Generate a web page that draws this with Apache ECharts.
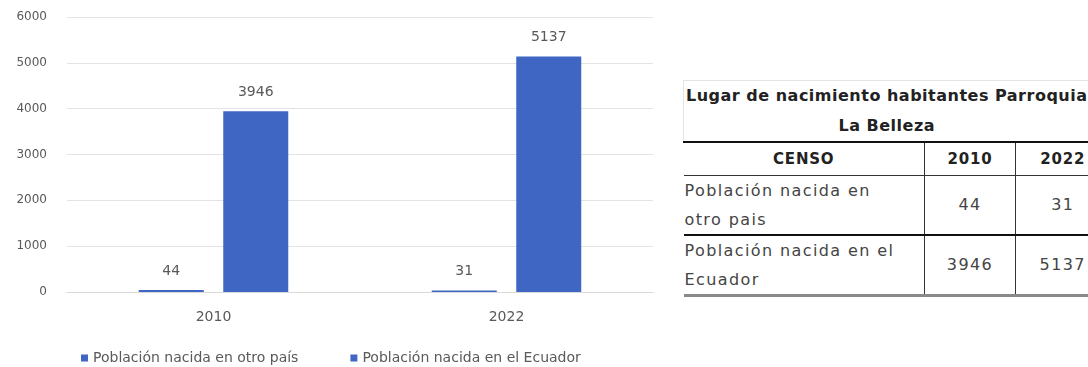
<!DOCTYPE html>
<html><head><meta charset="utf-8">
<script src="https://cdn.jsdelivr.net/npm/echarts@6/dist/echarts.min.js"></script>
<style>
html,body{margin:0;padding:0;background:#fff;width:1088px;height:367px;overflow:hidden;}
#chart{position:absolute;left:0;top:0;width:670px;height:367px;}
#tbl{position:absolute;left:683px;top:80px;width:426px;border-collapse:collapse;font-family:"DejaVu Sans",sans-serif;color:#444;table-layout:fixed;}
#tbl td{padding:0;text-align:center;box-sizing:border-box;}
#tbl .title{height:61px;font-weight:bold;font-size:16px;line-height:30px;color:#222;border-top:1px solid #e4e4e4;border-left:1px solid #e4e4e4;white-space:nowrap;letter-spacing:0.5px;vertical-align:middle;padding-right:20px;}
#tbl .hdr td{height:33px;font-weight:bold;font-size:15px;color:#222;border-top:2px solid #111;border-bottom:1px solid #333;letter-spacing:0.8px;}
#tbl .row td{height:59px;font-size:16px;letter-spacing:1.4px;line-height:29px;}
#tbl .lbl{text-align:left !important;padding-left:1px;white-space:nowrap;}
#tbl .vb{border-left:1px solid #333;}
#tbl .r1 td{border-bottom:2px solid #111;}
#tbl .r2 td{border-bottom:3px solid #8a8a8a;}
</style>
</head><body>
<div id="chart"></div>
<table id="tbl">
<colgroup><col style="width:241px"><col style="width:91px"><col style="width:94px"></colgroup>
<tr><td class="title" colspan="3" id="ttl"></td></tr>
<tr class="hdr"><td id="h0"></td><td class="vb" id="h1"></td><td class="vb" id="h2"></td></tr>
<tr class="row r1"><td class="lbl" id="l0"></td><td class="vb" id="a0"></td><td class="vb" id="b0"></td></tr>
<tr class="row r2"><td class="lbl" id="l1"></td><td class="vb" id="a1"></td><td class="vb" id="b1"></td></tr>
</table>
<script>
const categories = ['2010', '2022'];
const seriesNames = ['Población nacida en otro país', 'Población nacida en el Ecuador'];
const otroPais = [44, 31];
const ecuador = [3946, 5137];
const tableTitle = ['Lugar de nacimiento habitantes Parroquia', 'La Belleza'];
const tableHeader = ['CENSO', '2010', '2022'];
const tableRowLabels = [['Población nacida en', 'otro pais'], ['Población nacida en el', 'Ecuador']];

document.getElementById('ttl').innerHTML = tableTitle.join('<br>');
tableHeader.forEach((t,i)=>document.getElementById('h'+i).textContent=t);
tableRowLabels.forEach((t,i)=>document.getElementById('l'+i).innerHTML=t.join('<br>'));
[otroPais, ecuador].forEach((arr,r)=>{
  document.getElementById('a'+r).textContent = arr[0];
  document.getElementById('b'+r).textContent = arr[1];
});

const chart = echarts.init(document.getElementById('chart'));
const ff = '"DejaVu Sans", sans-serif';
chart.setOption({
  animation:false,
  grid:{left:67, right:17, top:17, bottom:75, containLabel:false},
  legend:{
    bottom:-3, left:76, itemWidth:7, itemHeight:7, itemGap:52, icon:'rect',
    textStyle:{color:'#595959', fontFamily:ff, fontSize:14}
  },
  xAxis:{
    type:'category', data:categories,
    axisLine:{lineStyle:{color:'#d9d9d9'}}, axisTick:{show:false},
    axisLabel:{margin:18, color:'#595959', fontFamily:ff, fontSize:14}
  },
  yAxis:{
    type:'value', min:0, max:6000, interval:1000,
    axisLine:{show:false}, axisTick:{show:false},
    splitLine:{lineStyle:{color:'#e3e3e3'}},
    axisLabel:{margin:20, color:'#595959', fontFamily:ff, fontSize:12, formatter:v=>String(v)}
  },
  series:[
    {name:seriesNames[0], type:'bar', data:otroPais, barWidth:65, barGap:'30%',
     itemStyle:{color:'#3F66C2'},
     label:{show:true, position:'top', distance:12, color:'#595959', fontFamily:ff, fontSize:14}},
    {name:seriesNames[1], type:'bar', data:ecuador, barWidth:65,
     itemStyle:{color:'#3F66C2'},
     label:{show:true, position:'top', distance:12, color:'#595959', fontFamily:ff, fontSize:14}}
  ]
});
</script>
</body></html>
